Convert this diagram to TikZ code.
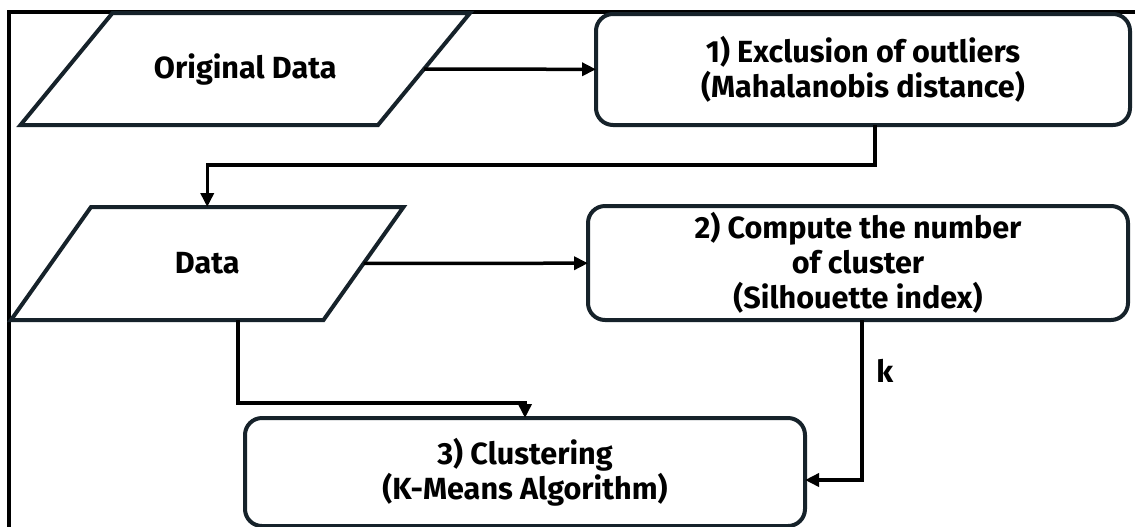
\documentclass[tikz,border=0pt]{standalone}
\usepackage{fontspec}
\setmainfont{Fira Sans}
\usetikzlibrary{arrows.meta}
\definecolor{myFrame}{RGB}{22,34,42}

\begin{document}
\begin{tikzpicture}[x=0.5pt,y=-0.5pt,>={Triangle[length=7pt,width=6.5pt]},
  font=\bfseries\fontsize{15.3}{17.5}\selectfont,
  data node/.style={rectangle,inner sep=0pt,outer sep=0pt,align=center},
  data line/.style={draw=myFrame,line width=2pt},
  step node/.style={rectangle,rounded corners=8.5pt,draw=myFrame,
  line width=2pt,inner sep=0pt,outer sep=0pt,align=center},
  flow/.style={->,line width=1.75pt}]
\useasboundingbox (0,0) rectangle (1135,526);
\fill[white] (0,0) rectangle (1135,526);
%------------------------------------------------------------------------
% The frame
%------------------------------------------------------------------------
\draw[line width=1.8pt] (9,530) -- (9,12) -- (1140,12);
%------------------------------------------------------------------------
% The data and the steps
%------------------------------------------------------------------------
\node[data node,minimum width=178.75pt,minimum height=56pt] (orig) at (245.25,69)
  {Original Data};
\draw[data line] ([xshift=23pt]orig.north west) -- ([xshift=23pt]orig.north east)
  -- ([xshift=-23pt]orig.south east) -- ([xshift=-23pt]orig.south west) -- cycle;
\node[step node,minimum width=267pt,minimum height=55.5pt] (excl) at (863,69.5)
  {1) Exclusion of outliers\\(Mahalanobis distance)};
\node[data node,minimum width=156.25pt,minimum height=56.5pt] (data) at (207.25,263.5)
  {Data};
\draw[data line] ([xshift=20pt]data.north west) -- ([xshift=20pt]data.north east)
  -- ([xshift=-20pt]data.south east) -- ([xshift=-20pt]data.south west) -- cycle;
\node[step node,minimum width=270pt,minimum height=57pt] (compk) at (858,263)
  {2) Compute the number\\of cluster\\(Silhouette index)};
\node[step node,minimum width=280pt,minimum height=54pt] (clus) at (525,472)
  {3) Clustering\\(K-Means Algorithm)};
%------------------------------------------------------------------------
% The flow
%------------------------------------------------------------------------
\coordinate (turnA) at (875,165);
\coordinate (turnB) at (238,403);
\coordinate (turnC) at (862,480);
\draw[flow] (orig) -- (excl);
\draw[flow] (excl.south -| turnA) -- (turnA) -| (data.north);
\draw[flow] (data) -- (compk);
\draw[flow] (data.south -| turnB) -- (turnB) -| (clus.north);
\draw[flow] (compk.south -| turnC) -- node[pos=0.32,right=3pt]{k} (turnC)
  -- (clus.east |- turnC);% the number of clusters

\end{tikzpicture}
\end{document}
